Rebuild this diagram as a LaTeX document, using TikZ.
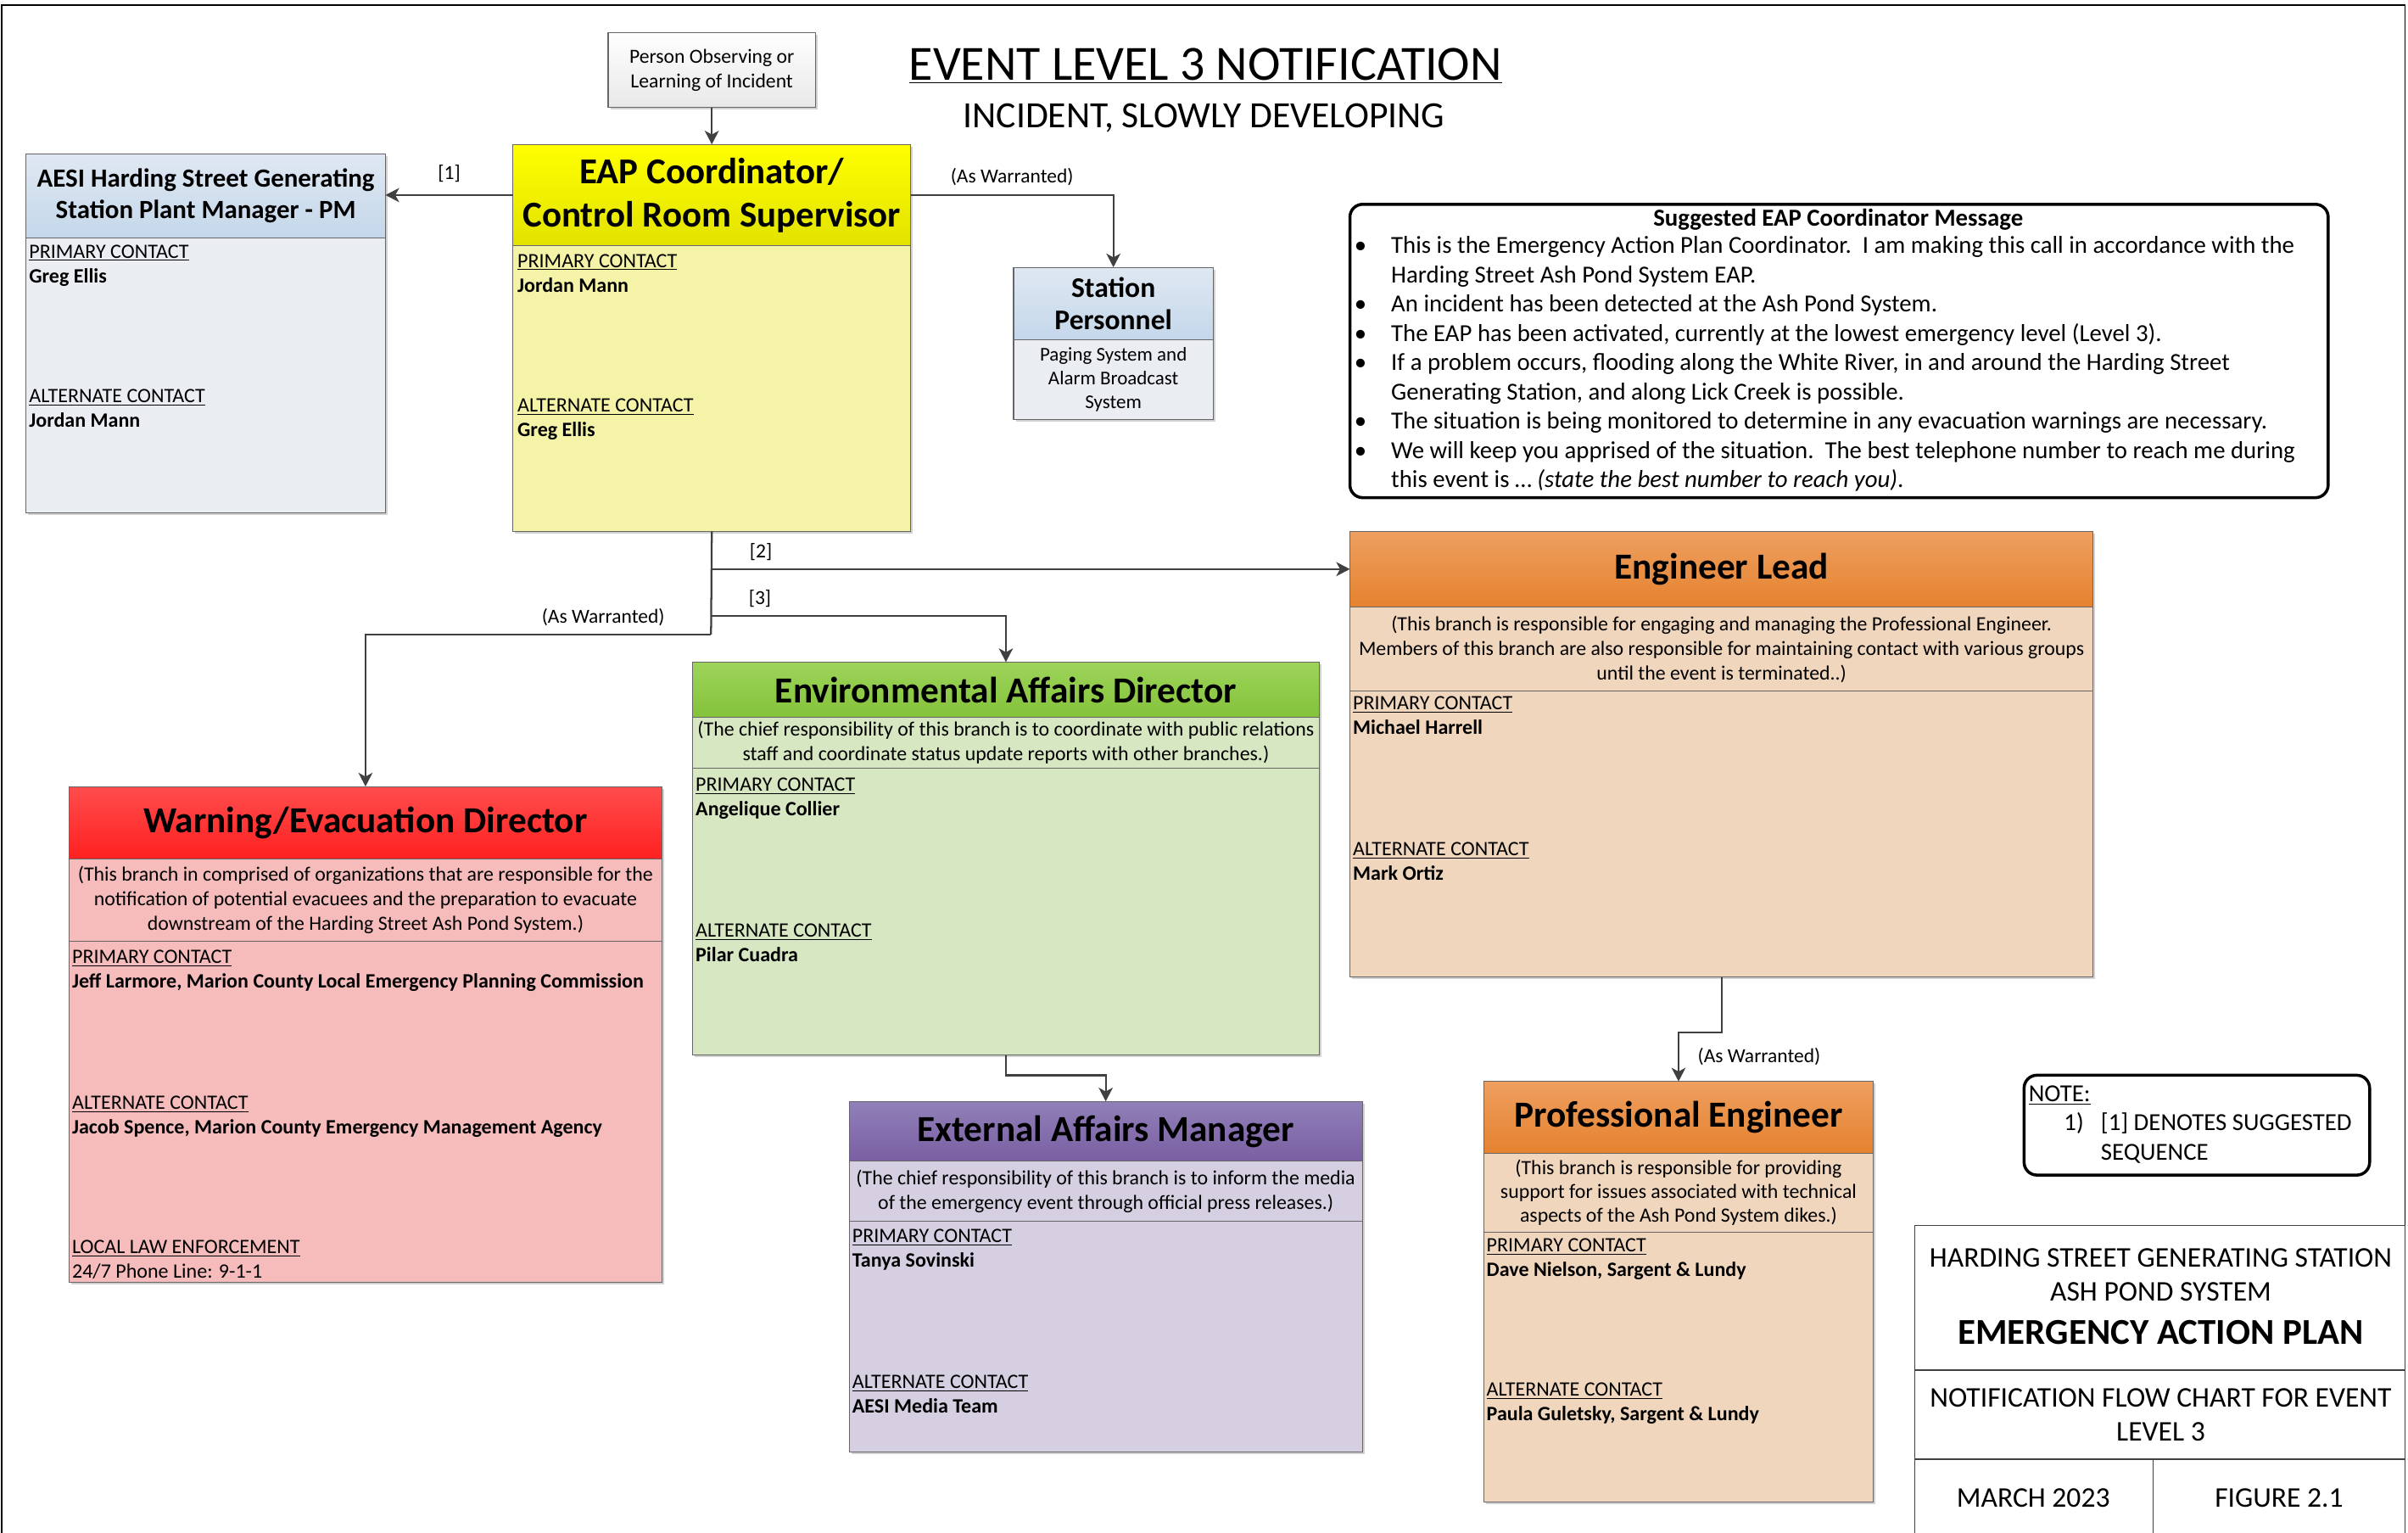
\documentclass[tikz,border=0pt]{standalone}
\usepackage{fontspec}
\setmainfont{Carlito}
\usetikzlibrary{fit,shadows,arrows.meta}

\definecolor{pmTop}{HTML}{DFE8F2}
\definecolor{pmBot}{HTML}{C4D7EA}
\definecolor{pmFill}{HTML}{EAEEF3}
\definecolor{eapTop}{HTML}{FFFF00}
\definecolor{eapBot}{HTML}{E2E200}
\definecolor{eapFill}{HTML}{F4F3A7}
\definecolor{warnTop}{HTML}{FF4D4D}
\definecolor{warnBot}{HTML}{FF2020}
\definecolor{warnFill}{HTML}{F6BCBC}
\definecolor{envTop}{HTML}{9DD45A}
\definecolor{envBot}{HTML}{84C23A}
\definecolor{envFill}{HTML}{D7E7C1}
\definecolor{eamTop}{HTML}{9080B8}
\definecolor{eamBot}{HTML}{7A5FA2}
\definecolor{eamFill}{HTML}{D5CFE1}
\definecolor{engTop}{HTML}{EE9F60}
\definecolor{engBot}{HTML}{E5822E}
\definecolor{engFill}{HTML}{F1D6BE}

\begin{document}
\begin{tikzpicture}
    [x=0.36mm,y=-0.36mm,
     every node/.style={inner sep=0pt,outer sep=0pt},
     box/.style={draw=black!60,line width=0.2mm,
       drop shadow={shadow xshift=0.5mm,shadow yshift=-0.5mm,fill=black!18,opacity=1}},
     hdrtxt/.style={align=center,font=\bfseries\fontsize{24.5}{28}\selectfont},
     desctxt/.style={align=center,font=\fontsize{13.5}{16.4}\selectfont},
     clbl/.style={anchor=base west,font=\fontsize{13.6}{16}\selectfont},
     cname/.style={anchor=base west,font=\bfseries\fontsize{13.6}{16}\selectfont},
     lbl/.style={font=\fontsize{13.3}{16}\selectfont},
     tbtxt/.style={anchor=base,font=\fontsize{19}{22}\selectfont},
     notetxt/.style={anchor=base west,font=\fontsize{16.3}{19}\selectfont},
     conn/.style={->,>={Stealth[length=3.2mm,width=3.3mm,inset=0.9mm]},draw=black!75,line width=0.45mm},
     frame/.style={draw=black,line width=0.7mm,rounded corners=3mm}]
    \useasboundingbox (0,0) rectangle (1568,998);
    \draw[line width=0.35mm] (1,1000) -- (1,3.5) -- (1566,3.5) -- (1566,1000);

    % heading
    \node[anchor=base,font=\fontsize{32.8}{36}\selectfont] (ttl) at (785,52) {\underline{EVENT LEVEL 3 NOTIFICATION}};
    \node[anchor=base,font=\fontsize{24.7}{28}\selectfont] (subttl) at (784,83) {INCIDENT, SLOWLY DEVELOPING};

    % top row
    \node[box,top color=white,bottom color=black!9,fit={(396,21) (531,70)}] (person) {};
    \node[align=center,font=\fontsize{13.4}{16.4}\selectfont] (person-t) at (person) {Person Observing or\\Learning of Incident};

    \node[box,top color=pmTop,bottom color=pmBot,fit={(17,100) (251,155)}] (aesi) {};
    \node[hdrtxt,font=\bfseries\fontsize{17.5}{20.5}\selectfont] (aesi-t) at (aesi) {AESI Harding Street Generating\\Station Plant Manager - PM};
    \node[box,fill=pmFill,fit={(17,155) (251,334)}] (aesibody) {};

    \node[box,top color=eapTop,bottom color=eapBot,fit={(334,94) (593,160)}] (eap) {};
    \node[hdrtxt,font=\bfseries\fontsize{24.3}{28.7}\selectfont] (eap-t) at (eap) {EAP Coordinator/\\Control Room Supervisor};
    \node[box,fill=eapFill,fit={(334,160) (593,346)}] (eapbody) {};

    \node[box,top color=pmTop,bottom color=pmBot,fit={(660,174) (790,221)}] (station) {};
    \node[hdrtxt,font=\bfseries\fontsize{19}{21.5}\selectfont] (station-t) at (station) {Station\\Personnel};
    \node[box,fill=pmFill,fit={(660,221) (790,273)}] (stationbody) {};
    \node[align=center,font=\fontsize{13}{16}\selectfont] (stationbody-t) at (stationbody) {Paging System and\\Alarm Broadcast\\System};

    % message
    \node[frame,fit={(879,133) (1516,324)}] (msg) {};
    \node[anchor=base,font=\bfseries\fontsize{16.3}{19}\selectfont] (msgttl) at (1197,147) {Suggested EAP Coordinator Message};
    \node[anchor=base west,font=\fontsize{16.3}{19.5}\selectfont] (msgtxt) at (882,165) {%
      \begin{tabular}[t]{@{}p{8.6mm}@{}l@{}}
      \textbullet & This is the Emergency Action Plan Coordinator.\ \ I am making this call in accordance with the\\
                  & Harding Street Ash Pond System EAP.\\
      \textbullet & An incident has been detected at the Ash Pond System.\\
      \textbullet & The EAP has been activated, currently at the lowest emergency level (Level 3).\\
      \textbullet & If a problem occurs, flooding along the White River, in and around the Harding Street\\
                  & Generating Station, and along Lick Creek is possible.\\
      \textbullet & The situation is being monitored to determine in any evacuation warnings are necessary.\\
      \textbullet & We will keep you apprised of the situation.\ \ The best telephone number to reach me during\\
                  & this event is \ldots\ \textit{(state the best number to reach you)}.
      \end{tabular}};

    % branches
    \node[box,top color=engTop,bottom color=engBot,fit={(879,346) (1363,395)}] (englead) {};
    \node[hdrtxt] (englead-t) at (englead) {Engineer Lead};
    \node[box,fill=engFill,fit={(879,395) (1363,450)}] (engdesc) {};
    \node[desctxt] (engdesc-t) at (engdesc) {(This branch is responsible for engaging and managing the Professional Engineer.\\Members of this branch are also responsible for maintaining contact with various groups\\until the event is terminated..)};
    \node[box,fill=engFill,fit={(879,450) (1363,636)}] (engbody) {};

    \node[box,top color=envTop,bottom color=envBot,fit={(451,431) (859,467)}] (env) {};
    \node[hdrtxt] (env-t) at (env) {Environmental Affairs Director};
    \node[box,fill=envFill,fit={(451,467) (859,500)}] (envdesc) {};
    \node[desctxt] (envdesc-t) at (envdesc) {(The chief responsibility of this branch is to coordinate with public relations\\staff and coordinate status update reports with other branches.)};
    \node[box,fill=envFill,fit={(451,500) (859,687)}] (envbody) {};

    \node[box,top color=warnTop,bottom color=warnBot,fit={(45,512) (431,559)}] (warn) {};
    \node[hdrtxt] (warn-t) at (warn) {Warning/Evacuation Director};
    \node[box,fill=warnFill,fit={(45,559) (431,613)}] (warndesc) {};
    \node[desctxt] (warndesc-t) at (warndesc) {(This branch in comprised of organizations that are responsible for the\\notification of potential evacuees and the preparation to evacuate\\downstream of the Harding Street Ash Pond System.)};
    \node[box,fill=warnFill,fit={(45,613) (431,835)}] (warnbody) {};

    \node[box,top color=eamTop,bottom color=eamBot,fit={(553,717) (887,756)}] (eam) {};
    \node[hdrtxt] (eam-t) at (eam) {External Affairs Manager};
    \node[box,fill=eamFill,fit={(553,756) (887,795)}] (eamdesc) {};
    \node[desctxt] (eamdesc-t) at (eamdesc) {(The chief responsibility of this branch is to inform the media\\of the emergency event through official press releases.)};
    \node[box,fill=eamFill,fit={(553,795) (887,945)}] (eambody) {};

    \node[box,top color=engTop,bottom color=engBot,fit={(966,704) (1220,751)}] (pe) {};
    \node[hdrtxt] (pe-t) at (pe) {Professional Engineer};
    \node[box,fill=engFill,fit={(966,751) (1220,802)}] (pedesc) {};
    \node[desctxt,font=\fontsize{13.5}{15.8}\selectfont] (pedesc-t) at (pedesc) {(This branch is responsible for providing\\support for issues associated with technical\\aspects of the Ash Pond System dikes.)};
    \node[box,fill=engFill,fit={(966,802) (1220,978)}] (pebody) {};

    % contacts
    \foreach \nm/\x/\y/\lbl/\who in {aesi1/19/164/PRIMARY/Greg Ellis, aesi2/19/258/ALTERNATE/Jordan Mann,
      eap1/337/170/PRIMARY/Jordan Mann, eap2/337/264/ALTERNATE/Greg Ellis,
      warn1/47/623/PRIMARY/{Jeff Larmore, Marion County Local Emergency Planning Commission},
      warn2/47/718/ALTERNATE/{Jacob Spence, Marion County Emergency Management Agency},
      env1/453/511/PRIMARY/Angelique Collier, env2/453/606/ALTERNATE/Pilar Cuadra,
      eam1/555/805/PRIMARY/Tanya Sovinski, eam2/555/900/ALTERNATE/AESI Media Team,
      eng1/881/458/PRIMARY/Michael Harrell, eng2/881/553/ALTERNATE/Mark Ortiz,
      pe1/968/811/PRIMARY/{Dave Nielson, Sargent \& Lundy}, pe2/968/905/ALTERNATE/{Paula Guletsky, Sargent \& Lundy}}
    {
      \node[clbl] (\nm-l) at (\x,\y+4) {\underline{\lbl\ CONTACT}};
      \node[cname] (\nm-n) at (\x,\y+20) {\who};
    }
    \node[clbl] (warn3-l) at (47,816) {\underline{LOCAL LAW ENFORCEMENT}};
    \node[clbl] (warn3-n) at (47,832) {24/7 Phone Line: 9-1-1};

    % connectors
    \coordinate (split) at (463,413);
    \coordinate (br3) at (463,401);
    \draw[conn] (person.south) -- (eap.north);
    \draw[conn] (eap.west) -- (eap.west -| aesi.east) node[lbl,midway,above=3mm] {[1]};
    \draw[conn] (eap.east) -| (station.north) node[lbl,pos=0.25,above=2.3mm] {(As Warranted)};
    \draw[line width=0.45mm,draw=black!75] (eapbody.south) -- (split);
    \draw[conn] (eapbody.south |- englead.west) -- (englead.west) node[lbl,pos=0.077,above=2mm] {[2]};
    \draw[conn] (br3) -| (env.north) node[lbl,pos=0.083,above=2mm] {[3]};
    \draw[conn] (split) -| (warn.north) node[lbl,pos=0.156,above=2mm] {(As Warranted)};
    \draw[conn] (envbody.south) -- ++(0,13) -| (eam.north);
    \draw[conn] (engbody.south) -- ++(0,36) -| (pe.north) node[lbl,pos=0.75,right=4.5mm] {(As Warranted)};

    % note
    \node[frame,fit={(1318,700) (1543,765)}] (note) {};
    \node[notetxt] (notettl) at (1321,717) {\underline{NOTE:}};
    \node[notetxt] (note1) at (1344,736) {1)};
    \node[notetxt] (note1a) at (1368,736) {[1] DENOTES SUGGESTED};
    \node[notetxt] (note1b) at (1368,755) {SEQUENCE};

    % title block
    \node[draw=black!75,line width=0.25mm,fit={(1247,798) (1566,892)}] (tbname) {};
    \node[draw=black!75,line width=0.25mm,fit={(1247,892) (1566,950)}] (tbchart) {};
    \node[draw=black!75,line width=0.25mm,fit={(1247,950) (1402,1000)}] (tbdate) {};
    \node[draw=black!75,line width=0.25mm,fit={(1402,950) (1566,1000)}] (tbfig) {};
    \node[tbtxt] (tbname1) at (1407,825) {HARDING STREET GENERATING STATION};
    \node[tbtxt] (tbname2) at (1407,847) {ASH POND SYSTEM};
    \node[tbtxt,font=\bfseries\fontsize{24.3}{28}\selectfont] (tbname3) at (1407,875) {EMERGENCY ACTION PLAN};
    \node[tbtxt] (tbchart1) at (1407,916) {NOTIFICATION FLOW CHART FOR EVENT};
    \node[tbtxt] (tbchart2) at (1407,938) {LEVEL 3};
    \node[tbtxt] (tbdate1) at (1324,981) {MARCH 2023};
    \node[tbtxt] (tbfig1) at (1484,981) {FIGURE 2.1};
  \end{tikzpicture}
\end{document}
